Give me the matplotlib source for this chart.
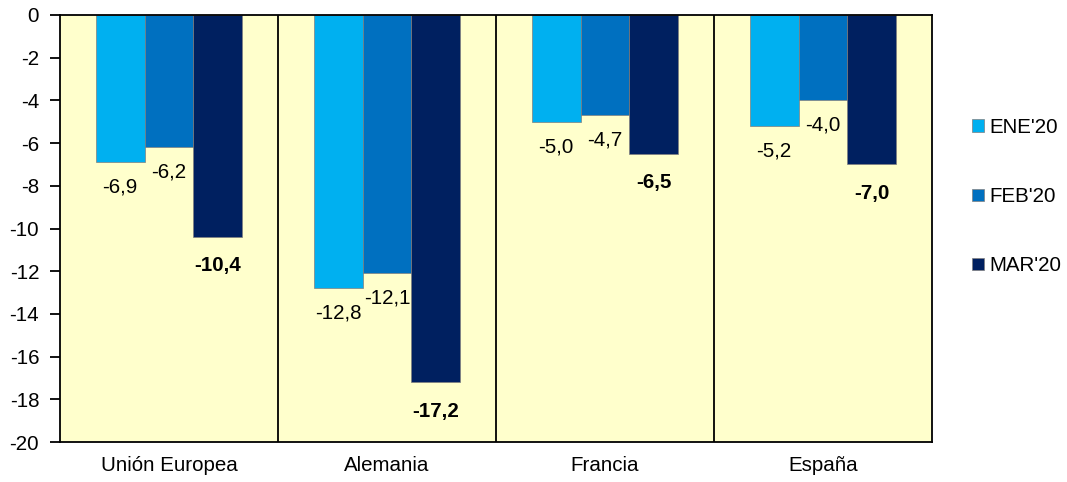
import numpy as np
import matplotlib
matplotlib.use("Agg")
import matplotlib.pyplot as plt

plt.rcParams['font.family'] = ['Liberation Sans', 'DejaVu Sans']
plt.rcParams['axes.unicode_minus'] = False

regiones = ['Unión Europea', 'Alemania', 'Francia', 'España']
series = ["ENE'20", "FEB'20", "MAR'20"]
ene = [-6.9, -12.8, -5.0, -5.2]
feb = [-6.2, -12.1, -4.7, -4.0]
mar = [-10.4, -17.2, -6.5, -7.0]
colores = ['#00B0F0', '#0070C0', '#002060']

fig = plt.figure(figsize=(10.67, 4.82), dpi=100)
ax = fig.add_axes([60/1067, 1 - 442/482, 872/1067, 427/482])
ax.set_facecolor('#FFFFCC')

x = np.arange(len(regiones))
w = 0.224
for i, (vals, nombre, col) in enumerate(zip([ene, feb, mar], series, colores)):
    pos = x + (i - 1) * w
    ax.bar(pos, vals, width=w, color=col, edgecolor='#7F7F7F', linewidth=0.5,
           label=nombre, zorder=2)
    for p, v in zip(pos, vals):
        txt = '{:.1f}'.format(v).replace('.', ',')
        if i == 2:
            ax.annotate(txt, (p, v), xytext=(0, -14), textcoords='offset points',
                        ha='center', va='top', fontsize=14.8, fontweight='bold')
        else:
            ax.annotate(txt, (p, v), xytext=(0, -11), textcoords='offset points',
                        ha='center', va='top', fontsize=14.8)

for b in [0.5, 1.5, 2.5]:
    ax.axvline(b, color='black', linewidth=1.3, zorder=3)

ax.set_xlim(-0.5, 3.5)
ax.set_ylim(-20, 0)
ax.set_yticks(np.arange(-20, 1, 2))
ax.set_xticks(x)
ax.set_xticklabels(regiones)
ax.tick_params(axis='x', length=0, labelsize=14.8, pad=10)
ax.tick_params(axis='y', length=7, width=1.3, labelsize=14.8, pad=8)
for s in ax.spines.values():
    s.set_linewidth(1.3)

ax.legend(loc='center left', bbox_to_anchor=(1.025, 0.575), frameon=False,
          fontsize=14.8, handlelength=0.55, handleheight=0.55, handletextpad=0.3,
          labelspacing=2.45)

fig.savefig('out.png', dpi=100)
